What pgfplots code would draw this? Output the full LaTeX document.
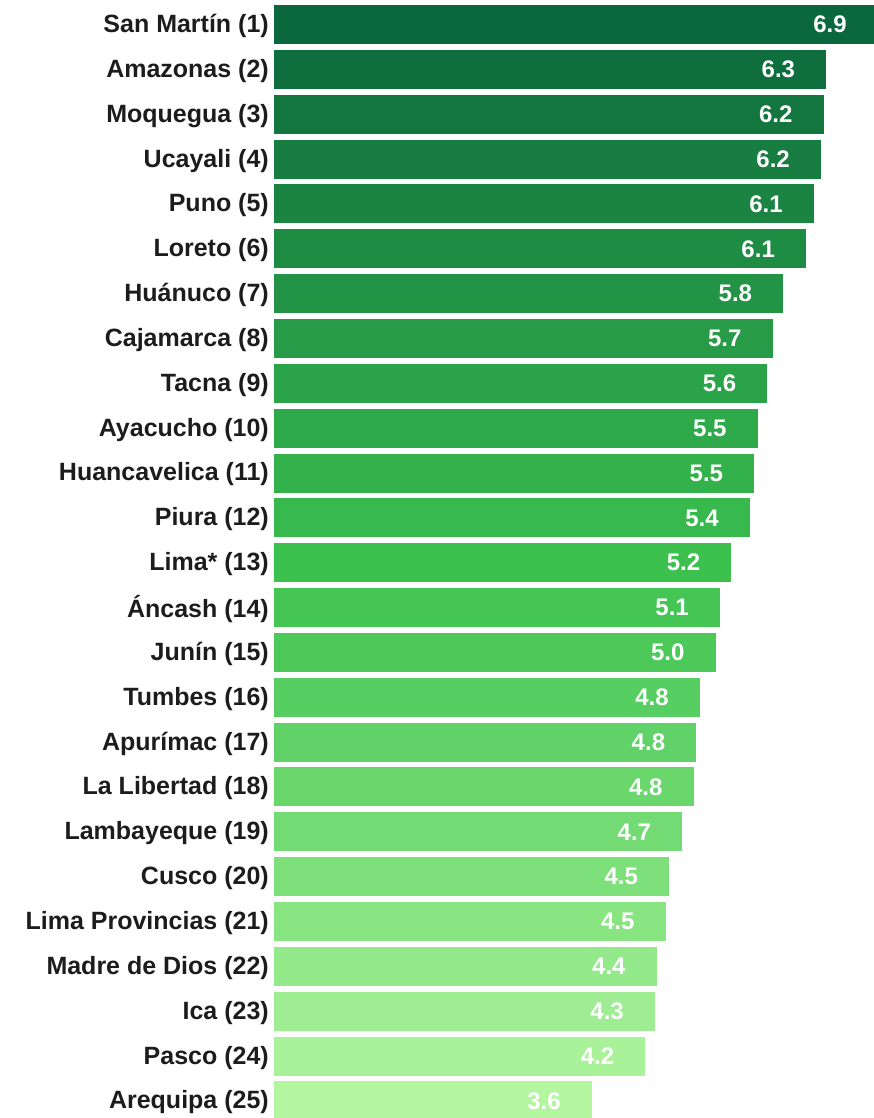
\documentclass[border=0pt]{standalone}
\usepackage{pgfplots}
\pgfplotsset{compat=1.18}
\usepackage{fontspec}
\setmainfont{Liberation Sans}
\definecolor{c1}{RGB}{11,103,60}
\definecolor{c2}{RGB}{15,110,62}
\definecolor{c3}{RGB}{19,118,63}
\definecolor{c4}{RGB}{23,125,65}
\definecolor{c5}{RGB}{27,132,66}
\definecolor{c6}{RGB}{31,140,68}
\definecolor{c7}{RGB}{35,147,69}
\definecolor{c8}{RGB}{39,155,71}
\definecolor{c9}{RGB}{43,163,72}
\definecolor{c10}{RGB}{47,170,74}
\definecolor{c11}{RGB}{51,177,75}
\definecolor{c12}{RGB}{55,185,77}
\definecolor{c13}{RGB}{60,192,78}
\definecolor{c14}{RGB}{68,197,84}
\definecolor{c15}{RGB}{77,201,90}
\definecolor{c16}{RGB}{86,206,97}
\definecolor{c17}{RGB}{96,210,103}
\definecolor{c18}{RGB}{106,215,109}
\definecolor{c19}{RGB}{116,219,116}
\definecolor{c20}{RGB}{126,224,123}
\definecolor{c21}{RGB}{137,228,130}
\definecolor{c22}{RGB}{148,233,138}
\definecolor{c23}{RGB}{159,237,146}
\definecolor{c24}{RGB}{170,242,153}
\definecolor{c25}{RGB}{180,246,160}
\definecolor{labelcol}{RGB}{28,28,28}
\begin{document}
\begin{tikzpicture}
\begin{axis}[
  at={(0pt,0pt)}, anchor=south west,
  width=600pt, height=1118pt, scale only axis,
  xmin=0, xmax=6.834,
  ymin=0.454, ymax=25.381, y dir=reverse,
  hide x axis,
  axis y line*=left, y axis line style={draw=none},
  ytick={1,...,25},
  yticklabels={San Martín (1),Amazonas (2),Moquegua (3),Ucayali (4),Puno (5),Loreto (6),Huánuco (7),Cajamarca (8),Tacna (9),Ayacucho (10),Huancavelica (11),Piura (12),Lima* (13),Áncash (14),Junín (15),Tumbes (16),Apurímac (17),La Libertad (18),Lambayeque (19),Cusco (20),Lima Provincias (21),Madre de Dios (22),Ica (23),Pasco (24),Arequipa (25)},
  yticklabel style={font=\fontsize{25}{30}\selectfont\bfseries, text=labelcol, anchor=east, inner sep=0pt, xshift=-5pt, yshift=-1.5pt},
  major tick length=0pt,
  xbar, bar width=39pt,
  every axis plot/.append style={bar shift=0pt, draw=none},
  point meta=explicit symbolic,
  nodes near coords,
  nodes near coords style={anchor=east, inner sep=0pt, xshift=-31pt, font=\fontsize{24}{28}\selectfont\bfseries, text=white},
]
\addplot[fill=c1, nodes near coords style={xshift=4pt}] coordinates {(6.833,1) [6.9]};
\addplot[fill=c2] coordinates {(6.29,2) [6.3]};
\addplot[fill=c3] coordinates {(6.26,3) [6.2]};
\addplot[fill=c4] coordinates {(6.23,4) [6.2]};
\addplot[fill=c5] coordinates {(6.15,5) [6.1]};
\addplot[fill=c6] coordinates {(6.06,6) [6.1]};
\addplot[fill=c7] coordinates {(5.80,7) [5.8]};
\addplot[fill=c8] coordinates {(5.68,8) [5.7]};
\addplot[fill=c9] coordinates {(5.62,9) [5.6]};
\addplot[fill=c10] coordinates {(5.51,10) [5.5]};
\addplot[fill=c11] coordinates {(5.47,11) [5.5]};
\addplot[fill=c12] coordinates {(5.42,12) [5.4]};
\addplot[fill=c13] coordinates {(5.21,13) [5.2]};
\addplot[fill=c14] coordinates {(5.08,14) [5.1]};
\addplot[fill=c15] coordinates {(5.03,15) [5.0]};
\addplot[fill=c16] coordinates {(4.85,16) [4.8]};
\addplot[fill=c17] coordinates {(4.81,17) [4.8]};
\addplot[fill=c18] coordinates {(4.78,18) [4.8]};
\addplot[fill=c19] coordinates {(4.65,19) [4.7]};
\addplot[fill=c20] coordinates {(4.50,20) [4.5]};
\addplot[fill=c21] coordinates {(4.46,21) [4.5]};
\addplot[fill=c22] coordinates {(4.36,22) [4.4]};
\addplot[fill=c23] coordinates {(4.34,23) [4.3]};
\addplot[fill=c24] coordinates {(4.23,24) [4.2]};
\addplot[fill=c25] coordinates {(3.62,25) [3.6]};
\end{axis}
\pgfresetboundingbox
\path (-274pt,0pt) rectangle (600pt,1118pt);
\end{tikzpicture}
\end{document}
